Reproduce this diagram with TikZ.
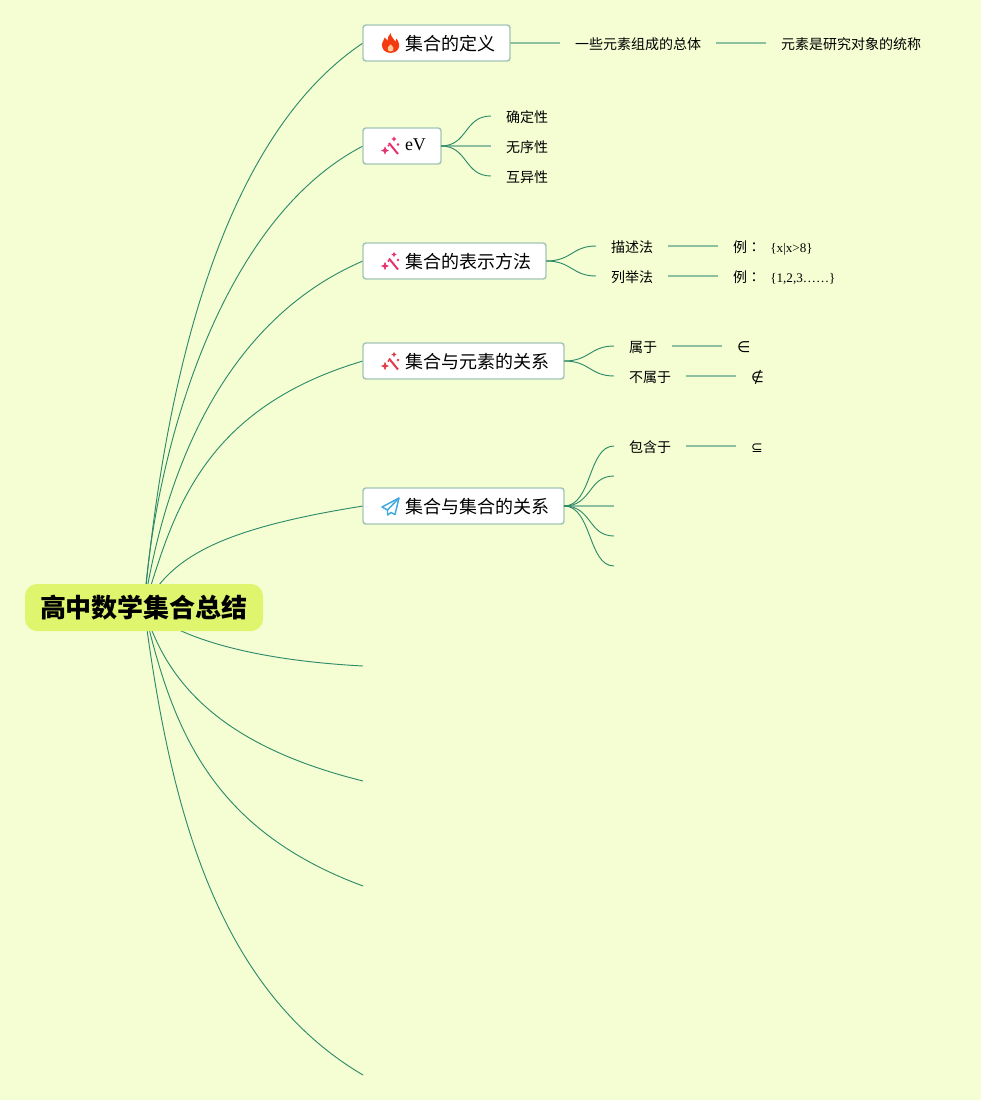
\documentclass[tikz,border=0pt]{standalone}
\usepackage{fontspec}
\setmainfont{Liberation Serif}
\newfontfamily\cjk{Noto Sans CJK SC}
\newfontfamily\cjktc{Noto Sans CJK TC}
\newfontfamily\symb{DejaVu Sans}
\usetikzlibrary{backgrounds}
\definecolor{paper}{HTML}{F5FED3}
\definecolor{rootfill}{HTML}{DFF56E}
\definecolor{boxline}{HTML}{A3C6B6}
\definecolor{twigline}{HTML}{2E8B6A}
\definecolor{stemline}{HTML}{8CC0A0}
\definecolor{flamered}{HTML}{F53A12}
\definecolor{wandpink}{HTML}{E8306E}
\definecolor{wandred}{HTML}{E03A48}
\definecolor{planeblue}{HTML}{3FA9E0}
\tikzset{
  x=0.75pt, y=-0.75pt,
  rootnode/.style={fill=rootfill, rounded corners=9pt, font=\cjk\bfseries\fontsize{19.5}{20}\selectfont, inner xsep=11.25pt, inner ysep=0pt, text height=18pt, text depth=2.5pt, minimum height=35.25pt, outer sep=0pt},
  branch/.style={draw=boxline, line width=1.1pt, fill=white, rounded corners=2.2pt, anchor=west, font=\cjk\fontsize{13.5}{15}\selectfont, inner xsep=11.25pt, inner ysep=0pt, text height=13pt, text depth=1.3pt, minimum height=27pt, outer sep=0pt, execute at begin node=\hspace{20.25pt}},
  leaf/.style={anchor=west, font=\cjk\fontsize{10.5}{12}\selectfont, inner xsep=11.25pt, inner ysep=0pt, text height=10pt, text depth=0.5pt, outer sep=0pt},
  twig/.style={draw=twigline, line width=0.7pt},
  stem/.style={draw=stemline, line width=1.1pt},
  flame/.pic={
    \fill[flamered] (0,11) .. controls (-6,11) and (-10,7) .. (-9.5,1) .. controls (-9,-2) and (-7,-3) .. (-6.5,-6) .. controls (-4.5,-5) and (-4,-3) .. (-3.5,-2) .. controls (-2.5,-5) and (-3,-9) .. (0,-11) .. controls (0,-7) and (4,-5) .. (5.5,-1.5) .. controls (6,-3) and (6.5,-4) .. (6.5,-5) .. controls (9,-2) and (10,2) .. (9.5,4) .. controls (9,8) and (5,11) .. (0,11) -- cycle;
    \fill[white!60!orange] (0,9.5) .. controls (-3,9.5) and (-4,7) .. (-3,5) .. controls (-2,3.5) and (-1,3) .. (0,1.5) .. controls (1,3) and (3,3.5) .. (3.2,5.5) .. controls (3.6,7.5) and (3,9.5) .. (0,9.5) -- cycle;
  },
  wand/.pic={
    \draw[pic actions, line width=1.5pt] (-2,-3) -- (7,8);
    \fill[pic actions] (-6,1) -- (-5,3.5) -- (-2.8,4.5) -- (-5,5.5) -- (-6,8) -- (-7,5.5) -- (-9.2,4.5) -- (-7,3.5) -- cycle;
    \fill[pic actions] (3,-9) -- (3.6,-7.6) -- (5,-7) -- (3.6,-6.4) -- (3,-5) -- (2.4,-6.4) -- (1,-7) -- (2.4,-7.6) -- cycle;
    \fill[pic actions] (7,-1.5) circle (0.9);
    \fill[pic actions] (-2.5,-0.5) circle (0.7);
  },
  plane/.pic={
    \draw[draw=planeblue, line width=1.1pt, line join=round] (9,-8) -- (-8,1) -- (-2.5,4) -- (-2.5,9) -- (1,6.5) -- (5,8.5) -- cycle;
    \draw[draw=planeblue, line width=1.1pt, line join=round] (-2.5,4) -- (9,-8);
  }
}
\begin{document}
\begin{tikzpicture}
\useasboundingbox (0,0) rectangle (981,1100);
% Central topic
\node[rootnode] (root) at (144,607.5) {高中数学集合总结};

% Branch topics
\node[branch] (define) at (363,43) {集合的定义};
\node[branch, font=\fontsize{13.5}{15}\selectfont, text height=9.5pt, text depth=2.3pt] (ev) at (363,146) {eV};
\node[branch] (notation) at (363,261) {集合的表示方法};
\node[branch] (element) at (363,361) {集合与元素的关系};
\node[branch] (subset) at (363,506) {集合与集合的关系};
\coordinate (emptya) at (363,666);
\coordinate (emptyb) at (363,781);
\coordinate (emptyc) at (363,886);
\coordinate (emptyd) at (363,1075);

% Icons
\pic[scale=0.9] at (390.5,43) {flame};
\pic[draw=wandpink, fill=wandpink] at (391,146) {wand};
\pic[draw=wandpink, fill=wandpink] at (391,261.5) {wand};
\pic[draw=wandred, fill=wandred] at (391,361.5) {wand};
\pic at (390,506) {plane};

% Leaves of the first branch
\node[leaf] (bodya) at (560,43) {一些元素组成的总体};
\node[leaf] (bodyb) at (766,43) {元素是研究对象的统称};

% Properties
\node[leaf] (certain) at (491,116) {确定性};
\node[leaf] (unordered) at (491,146) {无序性};
\node[leaf] (distinct) at (491,176) {互异性};

% Notation methods
\node[leaf] (describe) at (596,246) {描述法};
\node[leaf] (listing) at (596,276) {列举法};
\node[leaf] (describex) at (718,246) {例\cjktc ：\hspace{7pt}\rmfamily\fontsize{9.85}{12}\selectfont\{x|x>8\}};
\node[leaf] (listingx) at (718,276) {例\cjktc ：\hspace{7pt}\rmfamily\fontsize{9.85}{12}\selectfont\{1,2,3……\}};

% Element relations
\node[leaf] (belong) at (614,346) {属于};
\node[leaf] (notbelong) at (614,376) {不属于};
\node[leaf, font=\symb\fontsize{11.5}{14}\selectfont] (belongx) at (722,346) {∈};
\node[leaf, font=\symb\fontsize{11}{14}\selectfont] (notbelongx) at (736,376) {∉};

% Set relations
\node[leaf] (contain) at (614,446) {包含于};
\node[leaf, font=\symb\fontsize{10.5}{12}\selectfont] (containx) at (736,446) {⊆};
\coordinate (subb) at (614,476);
\coordinate (subc) at (614,506);
\coordinate (subd) at (614,536);
\coordinate (sube) at (614,566);

\begin{scope}[on background layer]
\fill[paper] (0,0) rectangle (981,1100);
% Root connectors
\draw[twig] (root.center) .. controls (163,400) and (215,142) .. (define.west);
\draw[twig] (root.center) .. controls (155,450) and (220,220) .. (ev.west);
\draw[twig] (root.center) .. controls (165,470) and (225,320) .. (notation.west);
\draw[twig] (root.center) .. controls (172,520) and (197,410) .. (element.west);
\draw[twig] (root.center) .. controls (170,560) and (212,530) .. (subset.west);
\draw[twig] (root.center) .. controls (175,637) and (250,660) .. (emptya);
\draw[twig] (root.center) .. controls (165,680) and (218,745) .. (emptyb);
\draw[twig] (root.center) .. controls (172,730) and (212,830) .. (emptyc);
\draw[twig] (root.center) .. controls (168,790) and (210,985) .. (emptyd);
\end{scope}

% Straight stems
\draw[stem] (define) -- (bodya);
\draw[stem] (bodya) -- (bodyb);
\draw[stem] (ev) -- (unordered);
\draw[stem] (describe) -- (describex);
\draw[stem] (listing) -- (listingx);
\draw[stem] (belong) -- (belongx);
\draw[stem] (notbelong) -- (notbelongx);
\draw[stem] (contain) -- (containx);
\draw[stem] (subset) -- (subc);

% Curved twigs
\draw[twig] (ev.east) .. controls (468,146) and (464,116) .. (certain.west);
\draw[twig] (ev.east) .. controls (468,146) and (464,176) .. (distinct.west);
\draw[twig] (notation.east) .. controls (572,261) and (572,246) .. (describe.west);
\draw[twig] (notation.east) .. controls (572,261) and (572,276) .. (listing.west);
\draw[twig] (element.east) .. controls (590,361) and (590,346) .. (belong.west);
\draw[twig] (element.east) .. controls (590,361) and (590,376) .. (notbelong.west);
\draw[twig] (subset.east) .. controls (592,506) and (588,446) .. (contain.west);
\draw[twig] (subset.east) .. controls (592,506) and (588,476) .. (subb);
\draw[twig] (subset.east) .. controls (592,506) and (588,536) .. (subd);
\draw[twig] (subset.east) .. controls (592,506) and (588,566) .. (sube);
\end{tikzpicture}
\end{document}
